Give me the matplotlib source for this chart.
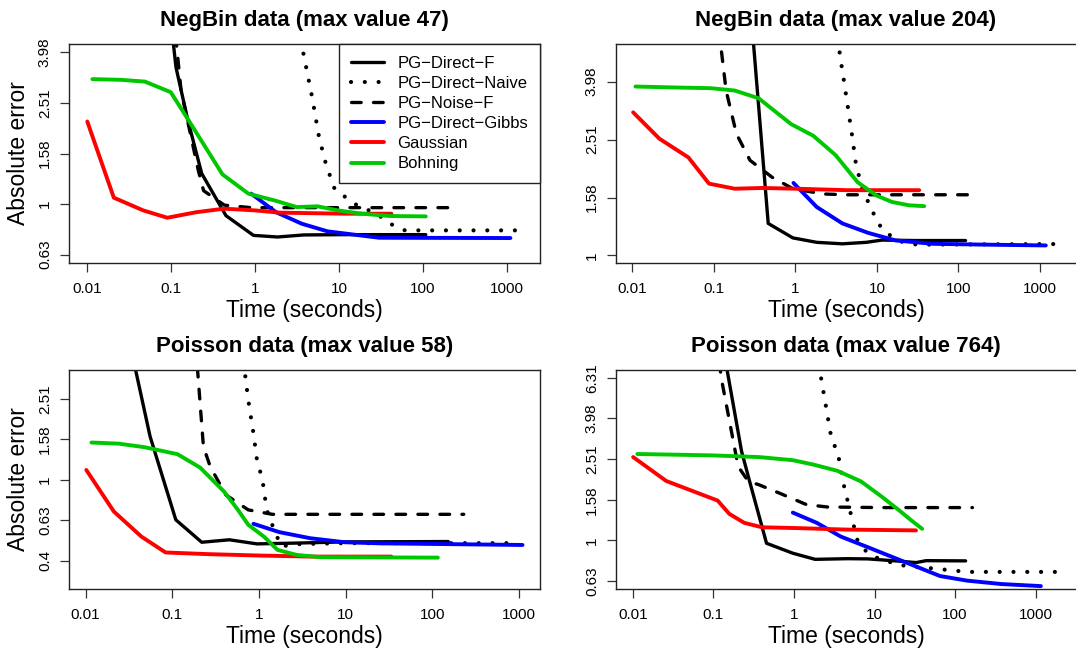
import matplotlib
matplotlib.use("Agg")
import matplotlib.pyplot as plt

plt.rcParams['font.family'] = ['Liberation Sans', 'DejaVu Sans']

# legend labels (R prints the hyphen as a minus sign)
labels = ["PG\u2212Direct\u2212F", "PG\u2212Direct\u2212Naive", "PG\u2212Noise\u2212F",
          "PG\u2212Direct\u2212Gibbs", "Gaussian", "Bohning"]
titles = ["NegBin data (max value 47)", "NegBin data (max value 204)",
          "Poisson data (max value 58)", "Poisson data (max value 764)"]

x_ticks = [0.01, 0.1, 1, 10, 100, 1000]
x_tick_labels = ["0.01", "0.1", "1", "10", "100", "1000"]

# y ticks are at powers 10^(0.2k)
nb47_ypow = [-0.2, 0, 0.2, 0.4, 0.6]
nb204_ypow = [0, 0.2, 0.4, 0.6]
p58_ypow = [-0.4, -0.2, 0, 0.2, 0.4]
p764_ypow = [-0.2, 0, 0.2, 0.4, 0.6, 0.8]

# ---- NegBin, max value 47 ----
nb47_pgf_t = [0.095, 0.114, 0.158, 0.231, 0.449, 0.955, 1.85, 3.77, 11.7, 108]
nb47_pgf_v = [6.0, 3.47, 2.14, 1.32, 0.90, 0.752, 0.741, 0.755, 0.757, 0.757]
nb47_naive_t = [3.5, 3.77, 4.78, 5.77, 6.97, 8.83, 11.7, 16.3, 22.7, 31.6, 44, 61, 1320]
nb47_naive_v = [4.45, 3.92, 2.64, 1.84, 1.44, 1.15, 1.07, 0.99, 0.944, 0.89, 0.824, 0.787, 0.787]
nb47_noise_t = [0.113, 0.131, 0.21, 0.243, 0.43, 0.9, 200]
nb47_noise_v = [4.6, 2.81, 1.36, 1.13, 0.99, 0.968, 0.968]
nb47_gibbs_t = [0.895, 1.77, 3.6, 7.3, 30, 1100]
nb47_gibbs_v = [1.10, 0.929, 0.836, 0.78, 0.736, 0.734]
nb47_gauss_t = [0.01, 0.0207, 0.0464, 0.0898, 0.2, 0.428, 1.0, 1.94, 11.7, 42]
nb47_gauss_v = [2.12, 1.06, 0.944, 0.883, 0.929, 0.959, 0.944, 0.925, 0.916, 0.916]
nb47_bohn_t = [0.0115, 0.025, 0.0486, 0.0987, 0.182, 0.408, 0.83, 1.77, 3.12, 5.5, 9.7, 18.8, 40, 108]
nb47_bohn_v = [3.12, 3.10, 3.05, 2.77, 2.01, 1.31, 1.10, 1.03, 0.973, 0.98, 0.944, 0.916, 0.897, 0.894]

# ---- NegBin, max value 204 ----
nb204_pgf_t = [0.25, 0.466, 0.933, 1.83, 3.78, 7.4, 11.5, 30, 122]
nb204_pgf_v = [11, 1.29, 1.15, 1.11, 1.097, 1.11, 1.13, 1.126, 1.126]
nb204_naive_t = [3.35, 3.53, 3.97, 4.46, 5.0, 5.56, 6.7, 8.0, 9.5, 11.5, 15.3, 21.5, 31.6, 1574]
nb204_naive_v = [5.6, 4.9, 3.96, 3.18, 2.56, 2.05, 1.68, 1.51, 1.36, 1.236, 1.16, 1.106, 1.09, 1.095]
nb204_noise_t = [0.116, 0.142, 0.19, 0.279, 0.523, 0.933, 2.22, 4.37, 134]
nb204_noise_v = [6.0, 3.71, 2.63, 2.13, 1.86, 1.70, 1.63, 1.62, 1.62]
nb204_gibbs_t = [0.95, 1.83, 3.78, 7.8, 16.9, 48.7, 207, 1175]
nb204_gibbs_v = [1.78, 1.47, 1.29, 1.197, 1.127, 1.097, 1.09, 1.083]
nb204_gauss_t = [0.0103, 0.0216, 0.049, 0.0877, 0.181, 0.392, 1.03, 4.37, 33]
nb204_gauss_v = [3.12, 2.53, 2.18, 1.77, 1.70, 1.71, 1.70, 1.68, 1.68]
nb204_bohn_t = [0.011, 0.035, 0.092, 0.181, 0.355, 0.89, 1.66, 3.12, 5.8, 9.9, 15.3, 24.8, 38]
nb204_bohn_v = [3.83, 3.80, 3.78, 3.71, 3.49, 2.84, 2.59, 2.22, 1.79, 1.61, 1.53, 1.49, 1.48]

# ---- Poisson, max value 58 ----
p58_pgf_t = [0.03, 0.0555, 0.110, 0.219, 0.456, 0.948, 2.48, 9.8, 153]
p58_pgf_v = [5.5, 1.64, 0.635, 0.492, 0.506, 0.483, 0.487, 0.494, 0.496]
p58_naive_t = [0.675, 0.70, 0.768, 0.865, 0.948, 1.06, 1.14, 1.19, 1.28, 1.8, 3.0, 10, 955]
p58_naive_v = [3.8, 3.18, 2.35, 1.70, 1.26, 1.06, 0.91, 0.782, 0.671, 0.47, 0.482, 0.487, 0.487]
p58_noise_t = [0.195, 0.2, 0.229, 0.275, 0.416, 0.754, 1.43, 9.8, 231]
p58_noise_v = [3.6, 3.12, 1.46, 1.16, 0.843, 0.711, 0.676, 0.676, 0.676]
p58_gibbs_t = [0.865, 1.72, 3.92, 9.8, 24.5, 1100]
p58_gibbs_v = [0.607, 0.552, 0.515, 0.492, 0.486, 0.477]
p58_gauss_t = [0.0102, 0.0212, 0.044, 0.0838, 0.251, 1.0, 3.9, 33.7]
p58_gauss_v = [1.12, 0.698, 0.525, 0.438, 0.43, 0.423, 0.418, 0.418]
p58_bohn_t = [0.0117, 0.0243, 0.0483, 0.115, 0.21, 0.397, 0.573, 0.754, 1.14, 1.64, 2.72, 5.2, 116]
p58_bohn_v = [1.53, 1.51, 1.45, 1.34, 1.15, 0.875, 0.711, 0.60, 0.525, 0.451, 0.426, 0.415, 0.413]

# ---- Poisson, max value 764 ----
p764_pgf_t = [0.12, 0.224, 0.286, 0.457, 0.968, 1.83, 4.6, 8.3, 18.2, 32.7, 43.8, 135]
p764_pgf_v = [11, 2.74, 1.91, 0.968, 0.865, 0.807, 0.813, 0.811, 0.793, 0.778, 0.795, 0.793]
p764_naive_t = [2.05, 2.18, 2.84, 3.63, 4.2, 5.1, 6.2, 8.3, 12.3, 24.4, 53, 141, 1982]
p764_naive_v = [7.3, 6.24, 3.38, 2.50, 1.84, 1.34, 0.986, 0.863, 0.801, 0.748, 0.728, 0.70, 0.70]
p764_noise_t = [0.12, 0.124, 0.203, 0.272, 0.365, 0.656, 1.43, 2.58, 12.3, 164]
p764_noise_v = [7.5, 6.43, 2.31, 1.95, 1.88, 1.71, 1.50, 1.46, 1.45, 1.45]
p764_gibbs_t = [0.968, 1.92, 3.8, 8.3, 18.2, 40, 65, 141, 377, 1159]
p764_gibbs_v = [1.37, 1.22, 1.045, 0.925, 0.817, 0.721, 0.668, 0.634, 0.61, 0.596]
p764_gauss_t = [0.0101, 0.026, 0.113, 0.158, 0.242, 0.402, 1.07, 4.6, 32.7]
p764_gauss_v = [2.57, 1.96, 1.57, 1.35, 1.22, 1.16, 1.15, 1.13, 1.12]
p764_bohn_t = [0.0114, 0.093, 0.365, 0.968, 1.74, 3.45, 6.8, 12.3, 20, 28.2, 39]
p764_bohn_v = [2.66, 2.62, 2.57, 2.48, 2.36, 2.20, 1.95, 1.64, 1.41, 1.26, 1.14]

# line styles in legend order
colors = ["black", "black", "black", "#0000FF", "#FF0000", "#00C800"]
widths = [2.4, 3.0, 2.4, 2.8, 2.8, 2.8]
dash_styles = [None, (0.01, 3.3), (2.9, 3.7), None, None, None]

panels = [
    dict(title=titles[0], ypow=nb47_ypow, ylog=(-0.233, 0.633), xlog=(-2.218, 3.394),
         rect=[69, 44, 540, 263], ylabel=True, legend=True, right=True,
         series=[(nb47_pgf_t, nb47_pgf_v), (nb47_naive_t, nb47_naive_v), (nb47_noise_t, nb47_noise_v),
                 (nb47_gibbs_t, nb47_gibbs_v), (nb47_gauss_t, nb47_gauss_v), (nb47_bohn_t, nb47_bohn_v)]),
    dict(title=titles[1], ypow=nb204_ypow, ylog=(-0.026, 0.730), xlog=(-2.197, 3.44),
         rect=[616, 44, 1076, 263], ylabel=False, legend=False, right=False,
         series=[(nb204_pgf_t, nb204_pgf_v), (nb204_naive_t, nb204_naive_v), (nb204_noise_t, nb204_noise_v),
                 (nb204_gibbs_t, nb204_gibbs_v), (nb204_gauss_t, nb204_gauss_v), (nb204_bohn_t, nb204_bohn_v)]),
    dict(title=titles[2], ypow=p58_ypow, ylog=(-0.539, 0.543), xlog=(-2.191, 3.243),
         rect=[69, 370, 540, 589], ylabel=True, legend=False, right=True,
         series=[(p58_pgf_t, p58_pgf_v), (p58_naive_t, p58_naive_v), (p58_noise_t, p58_noise_v),
                 (p58_gibbs_t, p58_gibbs_v), (p58_gauss_t, p58_gauss_v), (p58_bohn_t, p58_bohn_v)]),
    dict(title=titles[3], ypow=p764_ypow, ylog=(-0.239, 0.838), xlog=(-2.208, 3.50),
         rect=[616, 370, 1076, 589], ylabel=False, legend=False, right=False,
         series=[(p764_pgf_t, p764_pgf_v), (p764_naive_t, p764_naive_v), (p764_noise_t, p764_noise_v),
                 (p764_gibbs_t, p764_gibbs_v), (p764_gauss_t, p764_gauss_v), (p764_bohn_t, p764_bohn_v)]),
]

W, H = 1076, 650
fig = plt.figure(figsize=(W / 100, H / 100), dpi=100)

for p in panels:
    x0, y0, x1, y1 = p["rect"]
    ax = fig.add_axes([x0 / W, 1 - y1 / H, (x1 - x0) / W, (y1 - y0) / H])
    ax.set_xscale("log")
    ax.set_yscale("log")

    lines = []
    for (t, v), c, lw, ds in zip(p["series"], colors, widths, dash_styles):
        ln, = ax.plot(t, v, color=c, lw=lw, solid_capstyle="round", solid_joinstyle="round")
        if ds is not None:
            ln.set_dashes(ds)
            ln.set_dash_capstyle("round")
        lines.append(ln)

    ax.set_xlim(10 ** p["xlog"][0], 10 ** p["xlog"][1])
    ax.set_ylim(10 ** p["ylog"][0], 10 ** p["ylog"][1])

    ax.xaxis.set_minor_locator(matplotlib.ticker.NullLocator())
    ax.yaxis.set_minor_locator(matplotlib.ticker.NullLocator())
    ax.set_xticks(x_ticks)
    ax.set_xticklabels(x_tick_labels)
    yt = [10 ** e for e in p["ypow"]]
    ax.set_yticks(yt)
    ax.set_yticklabels([f"{round(v, 2):g}" for v in yt], rotation=90, va="center")
    ax.tick_params(axis="both", direction="out", length=6.3, width=0.9, labelsize=11,
                   color="#333333")
    ax.tick_params(axis="x", pad=7.5)
    ax.tick_params(axis="y", pad=6)
    for s in ax.spines.values():
        s.set_linewidth(1.0)
        s.set_color("#222222")
    if not p["right"]:
        ax.spines["right"].set_visible(False)

    ax.set_title(p["title"], fontsize=16, fontweight="bold", pad=13)
    ax.set_xlabel("Time (seconds)", fontsize=16.5, va="top")
    ax.xaxis.set_label_coords(0.5, -0.165)
    if p["ylabel"]:
        ax.set_ylabel("Absolute error", fontsize=16.5)
        ax.yaxis.set_label_coords(-0.082, 0.5)

    if p["legend"]:
        leg = ax.legend(lines, labels, loc="upper right", bbox_to_anchor=(1, 1),
                        borderaxespad=0, fontsize=12, handlelength=2.0, handletextpad=0.8,
                        labelspacing=0.31, borderpad=0.7, fancybox=False, framealpha=1,
                        edgecolor="#222222")
        leg.get_frame().set_linewidth(1.0)

fig.savefig("out.png", dpi=100)
